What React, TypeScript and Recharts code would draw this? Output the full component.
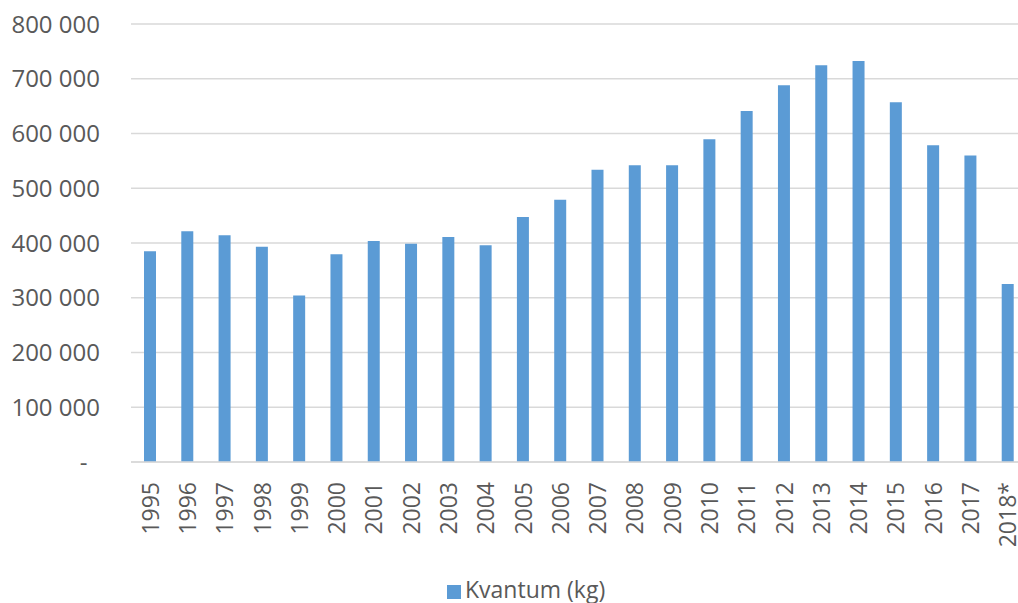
import { BarChart, Bar, XAxis, YAxis, CartesianGrid, Legend } from 'recharts'

const years = [
  '1995', '1996', '1997', '1998', '1999', '2000', '2001', '2002', '2003', '2004', '2005', '2006',
  '2007', '2008', '2009', '2010', '2011', '2012', '2013', '2014', '2015', '2016', '2017', '2018*'
]
const kvantum = [
  385000, 421500, 414000, 393000, 304000, 379500, 403500, 398500, 411000, 396000, 447500, 479000,
  534000, 542000, 542000, 589500, 641000, 688000, 724500, 732500, 657000, 578500, 560000, 325000
]
const yTicks = [0, 100000, 200000, 300000, 400000, 500000, 600000, 700000, 800000]

const data = years.map((year, i) => ({ year, kvantum: kvantum[i] }))

const textColor = '#595959'
const font = '"Open Sans", sans-serif'

const formatY = (v: number) =>
  v === 0 ? '-\u00A0\u00A0' : v.toLocaleString('en-US').replace(/,/g, ' ')

const YearTick = ({ x, y, payload }: any) => (
  <text
    transform={`translate(${x},${y + 12}) rotate(-90)`}
    textAnchor="end"
    dominantBaseline="central"
    fill={textColor}
    fontSize={23}
    fontFamily={font}
  >
    {payload.value}
  </text>
)

const App = () => {
  return (
    <div style={{ position: 'absolute', left: 0, top: 0, width: 1018, height: 603, overflow: 'hidden', background: '#fff' }}>
      <BarChart
        width={1030}
        height={603}
        data={data}
        margin={{ top: 24, right: 4, bottom: 29, left: 0 }}
      >
        <CartesianGrid vertical={false} stroke="#D9D9D9" strokeWidth={1.5} />
        <XAxis
          dataKey="year"
          interval={0}
          height={80}
          tickLine={false}
          axisLine={{ stroke: '#D9D9D9', strokeWidth: 1.5 }}
          tick={<YearTick />}
        />
        <YAxis
          domain={[0, 800000]}
          ticks={yTicks}
          width={131}
          axisLine={false}
          tickLine={false}
          tickSize={0}
          tickMargin={31}
          tickFormatter={formatY}
          tick={{ fill: textColor, fontSize: 24, fontFamily: font }}
        />
        <Legend
          iconType="square"
          iconSize={14}
          align="left"
          verticalAlign="bottom"
          wrapperStyle={{ left: 447, top: 573, width: 'auto', fontFamily: font, fontSize: 23 }}
          formatter={(value: string) => <span style={{ color: textColor }}>{value}</span>}
        />
        <Bar dataKey="kvantum" name="Kvantum (kg)" fill="#5B9BD5" barSize={12} isAnimationActive={false} />
      </BarChart>
    </div>
  )
}

export default App
